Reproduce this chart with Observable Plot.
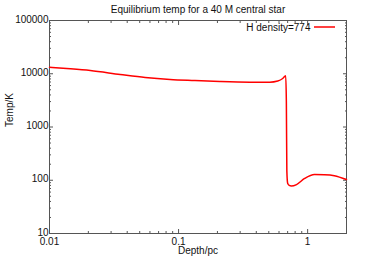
<!DOCTYPE html>
<html><head><meta charset="utf-8">
<script src="https://cdn.jsdelivr.net/npm/d3@7"></script>
<script src="https://cdn.jsdelivr.net/npm/@observablehq/plot@0.6"></script>
<style>body{margin:0;background:#fff} svg{display:block}</style>
</head><body><div id="chart"></div>
<script>
const title = "Equilibrium temp for a 40 M central star";
const seriesName = "H density=774";
const xLabel = "Depth/pc";
const yLabel = "Temp/K";

const depth = [0.01, 0.0145, 0.0207, 0.0353, 0.0551, 0.0859, 0.134, 0.209, 0.356, 0.509, 0.587, 0.641, 0.676, 0.684, 0.69, 0.70, 0.72, 0.748, 0.82, 0.948, 1.13, 1.35, 1.61, 2.0];
const temp  = [13200, 12400, 11500, 9700, 8500, 7800, 7450, 7150, 6950, 6940, 7300, 8150, 9200, 3000, 150, 88, 80, 78, 83, 108, 128, 127, 122, 103];

const xTicks = [0.01, 0.1, 1];
const xTickLabels = ["0.01", "0.1", "1"];
const xMinorTicks = [0.02,0.03,0.04,0.05,0.06,0.07,0.08,0.09,0.2,0.3,0.4,0.5,0.6,0.7,0.8,0.9,2];
const yTicks = [10, 100, 1000, 10000, 100000];
const yTickLabels = ["10", "100", "1000", "10000", "100000"];
const yMinorTicks = [20,30,40,50,60,70,80,90,200,300,400,500,600,700,800,900,2000,3000,4000,5000,6000,7000,8000,9000,20000,30000,40000,50000,60000,70000,80000,90000];

const data = depth.map((d, i) => ({depth: d, temp: temp[i]}));
const axisColor = "#555";
const textColor = "#111";

const legendLine = (index, scales, values, dim) => {
  const x2 = dim.width - dim.marginRight - 11;
  const y = dim.marginTop + 7;
  const l = d3.create("svg:line")
    .attr("x1", x2 - 21).attr("x2", x2).attr("y1", y).attr("y2", y)
    .attr("stroke", "red").attr("stroke-width", 1.5);
  return l.node();
};

const chart = Plot.plot({
  width: 382, height: 262,
  marginLeft: 49, marginRight: 36, marginTop: 20, marginBottom: 29,
  x: {type: "log", domain: [0.01, 2]},
  y: {type: "log", domain: [10, 100000]},
  style: {fontFamily: "'Liberation Sans', Arial, sans-serif", fontSize: "10px", color: textColor, background: "#fff"},
  marks: [
    Plot.axisY(yTicks, {anchor: "left", tickSize: 4, dx: 4, text: null, stroke: axisColor, label: null}),
    Plot.axisY(yTicks, {anchor: "right", tickSize: 4, dx: -4, text: null, stroke: axisColor, label: null}),
    Plot.axisX(xTicks, {anchor: "bottom", tickSize: 4, dy: -4, text: null, stroke: axisColor, label: null}),
    Plot.axisX(xTicks, {anchor: "top", tickSize: 4, dy: 4, text: null, stroke: axisColor, label: null}),
    Plot.axisY(yMinorTicks, {anchor: "left", tickSize: 2, dx: 2, text: null, stroke: axisColor, label: null}),
    Plot.axisY(yMinorTicks, {anchor: "right", tickSize: 2, dx: -2, text: null, stroke: axisColor, label: null}),
    Plot.axisX(xMinorTicks, {anchor: "bottom", tickSize: 2, dy: -2, text: null, stroke: axisColor, label: null}),
    Plot.axisX(xMinorTicks, {anchor: "top", tickSize: 2, dy: 2, text: null, stroke: axisColor, label: null}),
    Plot.text(yTicks, {y: d => d, text: (d, i) => yTickLabels[i], frameAnchor: "left", dx: -1, dy: -1, textAnchor: "end", lineAnchor: "middle", fill: textColor}),
    Plot.text(xTicks, {x: d => d, text: (d, i) => xTickLabels[i], frameAnchor: "bottom", dy: 8, lineAnchor: "middle", fill: textColor}),
    Plot.frame({stroke: axisColor}),
    Plot.line(data, {x: "depth", y: "temp", stroke: "red", strokeWidth: 1.5, curve: "monotone-x"}),
    Plot.text([title], {frameAnchor: "top", dy: -11, lineAnchor: "middle", fill: textColor}),
    Plot.text([xLabel], {frameAnchor: "bottom", dy: 17, lineAnchor: "middle", fill: textColor}),
    Plot.text([yLabel], {frameAnchor: "left", dx: -40, rotate: -90, lineAnchor: "middle", fill: textColor}),
    Plot.text([seriesName], {frameAnchor: "top-right", dx: -36, dy: 7, lineAnchor: "middle", textAnchor: "end", fill: textColor}),
    legendLine
  ]
});
document.getElementById("chart").append(chart);
</script>
</body></html>
